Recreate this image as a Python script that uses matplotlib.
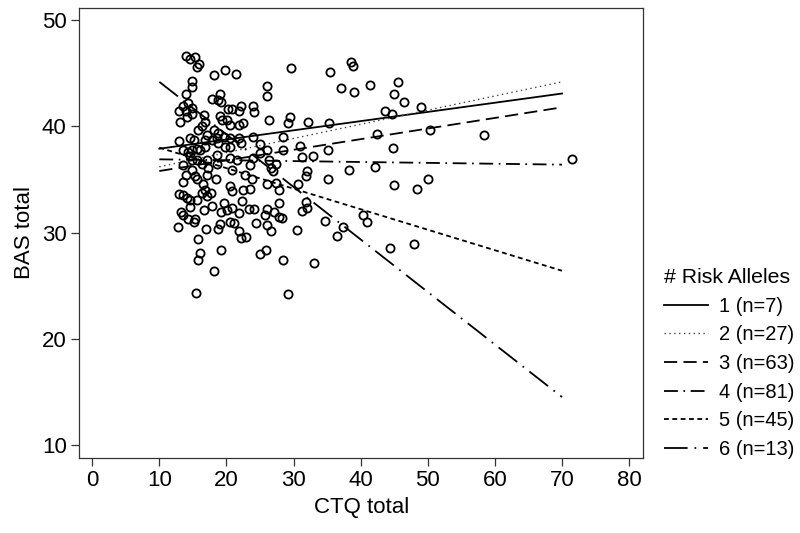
import matplotlib
matplotlib.use("Agg")
import matplotlib.pyplot as plt

plt.rcParams['font.family'] = ['Liberation Sans', 'DejaVu Sans']
plt.rcParams['lines.scale_dashes'] = False

# scatter data (CTQ total, BAS total)
ctq = [13.9, 14.6, 15.3, 15.9, 15.6, 18.2, 19.8, 21.4, 14.8, 14.9, 14.0, 19.1, 17.8, 18.8, 19.2,
       26.0, 26.1, 14.3, 13.6, 13.0, 13.9, 14.9, 13.1, 14.1, 14.9, 16.6, 16.8, 16.3, 15.8, 14.6,
       15.1, 12.9, 19.1, 19.3, 20.1, 20.6, 21.8, 22.5, 20.3, 20.8, 21.8, 22.1, 24.0, 24.1, 26.3,
       18.1, 18.8, 17.1, 16.8, 17.8, 18.6, 19.6, 20.6, 18.8, 19.8, 20.6, 21.8, 22.1, 24.0, 25.0,
       13.6, 14.3, 14.9, 15.6, 16.1, 16.8, 14.6, 14.9, 13.6, 15.6, 17.1, 18.6, 20.6, 21.6, 23.5,
       25.0, 26.0,
       16.3, 18.6, 13.9, 14.9, 15.3, 17.1, 17.3, 20.8, 13.5, 15.6, 16.5, 18.5, 22.8, 23.8, 26.0,
       16.8, 16.3, 17.7, 17.1, 12.9, 13.5, 14.1, 14.6, 15.6, 20.6, 20.8, 22.5, 23.5, 14.6, 16.7,
       17.8, 19.7, 19.2, 20.1, 20.8, 21.8, 22.3, 23.3, 24.1, 26.0, 13.3, 13.6, 14.3, 15.1, 15.3,
       12.8, 17.0, 19.0, 18.8, 20.6, 21.1, 21.8, 22.1, 22.9, 24.4, 26.0, 15.8, 16.0, 15.7, 19.2,
       25.0, 25.9, 18.2, 15.5,
       29.6, 35.5, 38.5, 38.9, 37.0, 39.0, 41.4, 29.4, 29.1, 32.2, 35.3, 28.5, 30.9, 28.5, 31.2,
       32.9, 35.1, 24.0, 26.4, 26.6, 27.4, 26.9, 32.0, 31.9, 38.3, 42.2, 27.4, 30.7, 27.9, 35.1,
       27.9, 31.9, 25.8, 27.1, 27.8, 28.3, 31.2, 32.0, 26.7, 30.5, 34.7, 37.4, 36.5, 40.3, 40.9,
       28.4, 33.1, 29.1,
       45.6, 45.0, 46.5, 43.6, 44.6, 49.0, 42.5, 50.4, 58.4, 44.8, 71.5, 45.0, 48.4, 50.1, 44.4,
       47.9]
bas = [46.6, 46.4, 46.5, 45.9, 45.6, 44.8, 45.3, 44.9, 44.3, 43.7, 43.1, 43.1, 42.6, 42.5, 42.3,
       43.8, 42.9, 42.2, 41.9, 41.5, 41.5, 41.7, 40.4, 40.9, 41.2, 41.1, 40.4, 40.0, 39.7, 38.9,
       38.7, 38.6, 41.0, 40.6, 40.6, 40.1, 40.1, 40.3, 41.6, 41.6, 41.5, 41.9, 41.9, 41.4, 40.6,
       39.7, 39.4, 39.2, 38.7, 38.7, 38.9, 39.0, 38.9, 38.4, 38.1, 38.1, 38.9, 38.4, 39.0, 38.3,
       37.8, 37.6, 37.8, 37.9, 37.8, 38.1, 37.2, 36.8, 36.4, 36.8, 36.8, 37.3, 37.0, 36.8, 36.4,
       37.5, 37.8,
       36.5, 36.5, 35.4, 35.9, 35.3, 35.4, 36.1, 35.9, 34.8, 35.0, 34.6, 35.0, 35.4, 35.0, 34.6,
       34.0, 33.7, 33.7, 33.4, 33.6, 33.5, 33.3, 33.1, 33.1, 34.4, 33.9, 34.0, 34.1, 32.4, 32.1,
       32.5, 32.8, 31.9, 32.1, 32.3, 31.8, 33.0, 32.2, 32.2, 32.2, 31.9, 31.7, 31.3, 31.0, 31.3,
       30.5, 30.3, 30.8, 30.3, 31.0, 30.9, 30.1, 29.5, 29.6, 30.9, 30.7, 29.4, 28.1, 27.4, 28.4,
       28.0, 28.4, 26.4, 24.3,
       45.5, 45.1, 46.1, 45.7, 43.6, 43.2, 43.9, 40.9, 40.3, 40.4, 40.3, 39.0, 38.2, 37.8, 37.1,
       37.2, 37.8, 37.0, 36.8, 36.1, 36.5, 35.8, 35.8, 35.3, 35.9, 36.2, 34.7, 34.6, 34.0, 35.0,
       32.8, 32.9, 31.7, 31.9, 31.5, 31.4, 32.0, 32.3, 30.1, 30.2, 31.1, 30.5, 29.7, 31.7, 31.0,
       27.4, 27.1, 24.2,
       44.2, 43.1, 42.3, 41.5, 41.2, 41.8, 39.3, 39.7, 39.2, 38.0, 36.9, 34.5, 34.1, 35.0, 28.5,
       28.9]

# fitted lines per group (CTQ from 10 to 70)
groups = ['1 (n=7)', '2 (n=27)', '3 (n=63)', '4 (n=81)', '5 (n=45)', '6 (n=13)']
line_x = [10, 70]
line_start = [37.9, 36.2, 35.8, 36.9, 38.0, 44.2]
line_end = [43.1, 44.2, 41.8, 36.4, 26.4, 14.5]

styles = [
    dict(linestyle='-', linewidth=1.3, color='black'),
    dict(linestyle=(0, (1.0, 2.5)), linewidth=1.0, color='#444444'),
    dict(linestyle=(0, (9.5, 4.5)), linewidth=1.3, color='black'),
    dict(linestyle=(0, (10, 4, 1.2, 4)), linewidth=1.3, color='black'),
    dict(linestyle=(0, (3.5, 2.5)), linewidth=1.3, color='black'),
    dict(linestyle=(0, (17, 5, 1.2, 5)), linewidth=1.3, color='black'),
]

fig = plt.figure(figsize=(8, 5.33), dpi=100)
ax = fig.add_axes([0.099, 0.141, 0.705, 0.844])

ax.plot(ctq, bas, linestyle='none', marker='o', markersize=5.9, markeredgewidth=1.3,
        markerfacecolor='none', markeredgecolor='black', zorder=3)

handles = []
for g, y0, y1, st in zip(groups, line_start, line_end, styles):
    ln, = ax.plot(line_x, [y0, y1], label=g, zorder=2, **st)
    handles.append(ln)

ax.set_xlim(-1.94, 82.1)
ax.set_ylim(8.77, 51.16)
ax.set_xticks(range(0, 81, 10))
ax.set_yticks(range(10, 51, 10))
ax.tick_params(direction='out', length=6, width=0.9, labelsize=16, color='#333333', pad=3)
for s in ax.spines.values():
    s.set_linewidth(0.9)
    s.set_color('#333333')

ax.set_xlabel('CTQ total', fontsize=16, labelpad=4)
ax.set_ylabel('BAS total', fontsize=16, labelpad=5)

leg = fig.legend(handles=handles, title='# Risk Alleles', loc='upper left',
                 bbox_to_anchor=(0.8195, 0.512), frameon=False, fontsize=14.5,
                 title_fontsize=15.3, handlelength=2.2, handletextpad=0.55,
                 labelspacing=0.48, borderaxespad=0.0)
leg._legend_box.align = 'left'

fig.savefig('out.png', dpi=100)
